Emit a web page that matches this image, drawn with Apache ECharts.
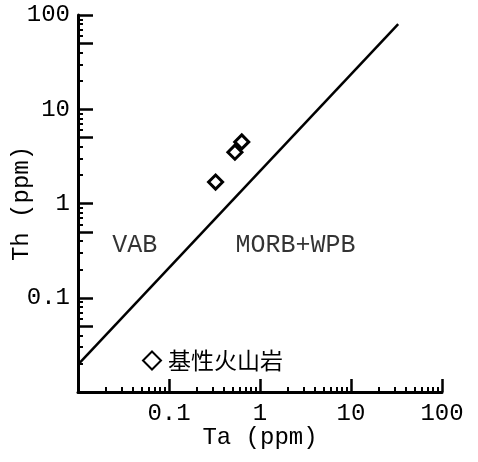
<!DOCTYPE html>
<html><head><meta charset="utf-8">
<script src="https://cdn.jsdelivr.net/npm/echarts@6/dist/echarts.min.js"></script>
<style>html,body{margin:0;padding:0;background:#fff}#c{width:478px;height:462px}</style>
</head><body><div id="c"></div>
<script>
const seriesName = '基性火山岩';
const taValues = [0.63, 0.53, 0.325];
const thValues = [4.5, 3.5, 1.69];
const boundaryTa = [0.01, 33];
const boundaryTh = [0.0195, 80];
const regionLabels = ['VAB', 'MORB+WPB'];
const regionTa = [0.042, 2.45];
const regionTh = [0.36, 0.36];
const majorTicks = [0.01, 0.1, 1, 10, 100];
const halfTicks = [0.05, 0.5, 5, 50];
const minorMult = [2, 3, 4, 6, 7, 8, 9];
const tickLabels = ['0.1', '1', '10', '100'];

const minorTicks = [];
[0.01, 0.1, 1, 10].forEach(d => minorMult.forEach(m => minorTicks.push(+(d * m).toPrecision(3))));

const mono = 'Liberation Mono';
const cjk = 'Noto Sans CJK SC';
const fmt = v => { const s = String(+v.toPrecision(3)); return tickLabels.includes(s) ? s : ''; };

const chart = echarts.init(document.getElementById('c'));
const baseAxis = {
  type: 'log', logBase: 10, min: 0.01, max: 100,
  splitLine: { show: false }
};
chart.setOption({
  animation: false,
  backgroundColor: '#fff',
  grid: { left: 78, right: 36, top: 15, bottom: 70, containLabel: false, outerBoundsMode: 'none' },
  legend: {
    data: [seriesName], left: 137, top: 344, itemWidth: 18, itemHeight: 18, itemGap: 6,
    textStyle: { fontFamily: cjk, fontSize: 23, color: '#000', padding: [0, 0, 0, 2] }
  },
  xAxis: [
    Object.assign({}, baseAxis, {
      position: 'bottom',
      name: 'Ta (ppm)', nameLocation: 'middle', nameGap: 34, nameMoveOverlap: false,
      nameTextStyle: { fontFamily: mono, fontSize: 24, color: '#000' },
      axisLine: { show: true, lineStyle: { color: '#000', width: 3 } },
      axisTick: { show: true, inside: true, length: 13, lineStyle: { color: '#000', width: 2.5 }, customValues: majorTicks },
      axisLabel: { show: true, margin: 10, fontFamily: mono, fontSize: 24, color: '#000', formatter: fmt, customValues: majorTicks.slice(1) }
    }),
    Object.assign({}, baseAxis, {
      position: 'bottom', offset: 0,
      axisLine: { show: false },
      axisTick: { show: true, inside: true, length: 5, lineStyle: { color: '#000', width: 2 }, customValues: minorTicks.concat(halfTicks) },
      axisLabel: { show: false }
    })
  ],
  yAxis: [
    Object.assign({}, baseAxis, {
      position: 'left',
      name: 'Th (ppm)', nameLocation: 'middle', nameGap: 44, nameMoveOverlap: false,
      nameTextStyle: { fontFamily: mono, fontSize: 24, color: '#000' },
      axisLine: { show: true, lineStyle: { color: '#000', width: 3 } },
      axisTick: { show: true, inside: true, length: 15, lineStyle: { color: '#000', width: 2.5 }, customValues: majorTicks.concat(halfTicks) },
      axisLabel: { show: true, margin: 8, fontFamily: mono, fontSize: 24, color: '#000', formatter: fmt, customValues: majorTicks.slice(1) }
    }),
    Object.assign({}, baseAxis, {
      position: 'left', offset: 0,
      axisLine: { show: false },
      axisTick: { show: true, inside: true, length: 5, lineStyle: { color: '#000', width: 2 }, customValues: minorTicks },
      axisLabel: { show: false }
    })
  ],
  series: [
    {
      type: 'line', xAxisIndex: 0, yAxisIndex: 0, symbol: 'none', silent: true,
      lineStyle: { color: '#000', width: 2.5 },
      data: boundaryTa.map((x, i) => [x, boundaryTh[i]])
    },
    {
      type: 'scatter', xAxisIndex: 0, yAxisIndex: 0, symbolSize: 0, silent: true,
      label: { show: true, position: 'inside', formatter: p => p.data[2], fontFamily: mono, fontSize: 25, color: '#000' },
      data: regionLabels.map((t, i) => [regionTa[i], regionTh[i], t])
    },
    {
      name: seriesName, type: 'scatter', xAxisIndex: 0, yAxisIndex: 0,
      symbol: 'diamond', symbolSize: 14,
      itemStyle: { color: '#fff', borderColor: '#000', borderWidth: 3, opacity: 1 },
      data: taValues.map((x, i) => [x, thValues[i]])
    }
  ]
});
</script></body></html>
